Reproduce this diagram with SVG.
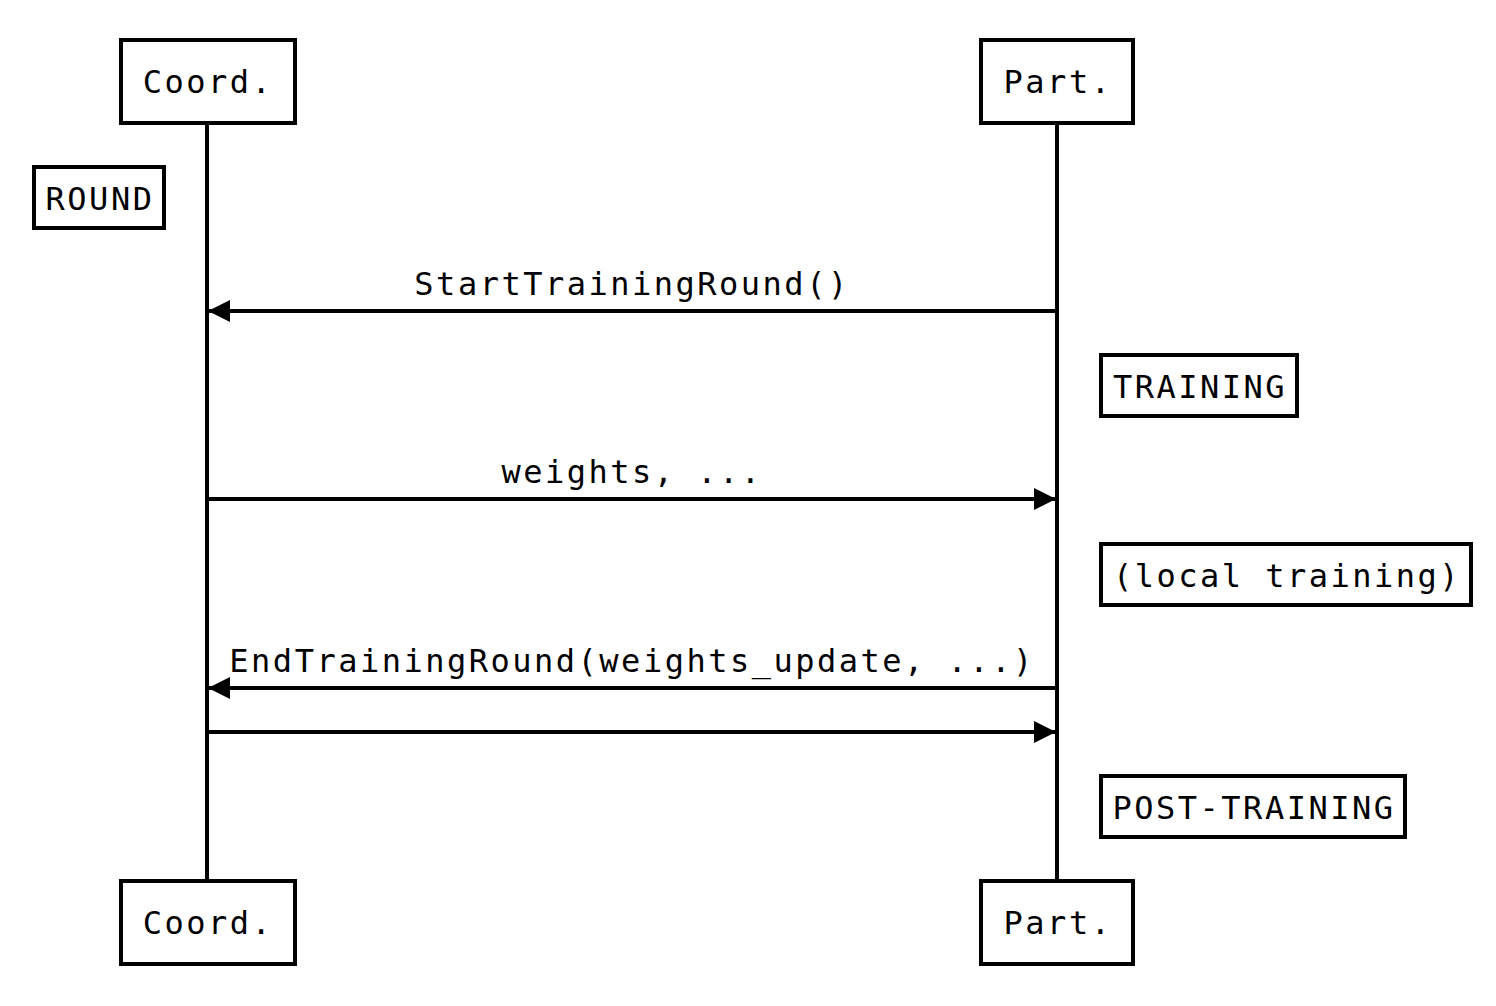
<svg xmlns="http://www.w3.org/2000/svg" width="1496" height="1006" viewBox="0 0 1496 1006">
<style>
.box{fill:#fff;stroke:#000;stroke-width:4}
.life{stroke:#000;stroke-width:4;fill:none}
.msg{stroke:#000;stroke-width:4;fill:none}
text{font-family:"DejaVu Sans Mono","Liberation Mono",monospace;font-size:32px;letter-spacing:2.5px;fill:#000;text-anchor:middle}
</style>
<defs>
<marker id="ah" viewBox="0 0 22 22" refX="22" refY="11" markerWidth="22" markerHeight="22" markerUnits="userSpaceOnUse" orient="auto">
<path d="M0,0 L22,11 L0,22 Z" fill="#000"/>
</marker>
</defs>
<g id="lifelines">
<line class="life" x1="207" y1="123" x2="207" y2="881"/>
<line class="life" x1="1057" y1="123" x2="1057" y2="881"/>
</g>
<g id="connectors">
<line class="msg" x1="1057" y1="311" x2="208" y2="311" marker-end="url(#ah)"/>
<text x="632" y="295">StartTrainingRound()</text>
<line class="msg" x1="207" y1="499" x2="1056" y2="499" marker-end="url(#ah)"/>
<text x="632" y="483">weights, ...</text>
<line class="msg" x1="1057" y1="688" x2="208" y2="688" marker-end="url(#ah)"/>
<text x="632" y="672">EndTrainingRound(weights_update, ...)</text>
<line class="msg" x1="207" y1="732" x2="1056" y2="732" marker-end="url(#ah)"/>
</g>
<g id="coord-top"><rect class="box" x="121" y="40" width="174" height="83"/><text x="208" y="93">Coord.</text></g>
<g id="part-top"><rect class="box" x="981" y="40" width="152" height="83"/><text x="1058" y="93">Part.</text></g>
<g id="coord-bottom"><rect class="box" x="121" y="881" width="174" height="83"/><text x="208" y="934">Coord.</text></g>
<g id="part-bottom"><rect class="box" x="981" y="881" width="152" height="83"/><text x="1058" y="934">Part.</text></g>
<g id="round"><rect class="box" x="34" y="167" width="130" height="61"/><text x="100" y="210">ROUND</text></g>
<g id="training"><rect class="box" x="1101" y="355" width="196" height="61"/><text x="1200" y="398">TRAINING</text></g>
<g id="local-training"><rect class="box" x="1101" y="544" width="370" height="61"/><text x="1287" y="587">(local training)</text></g>
<g id="post-training"><rect class="box" x="1101" y="776" width="304" height="61"/><text x="1254" y="819">POST-TRAINING</text></g>
</svg>
